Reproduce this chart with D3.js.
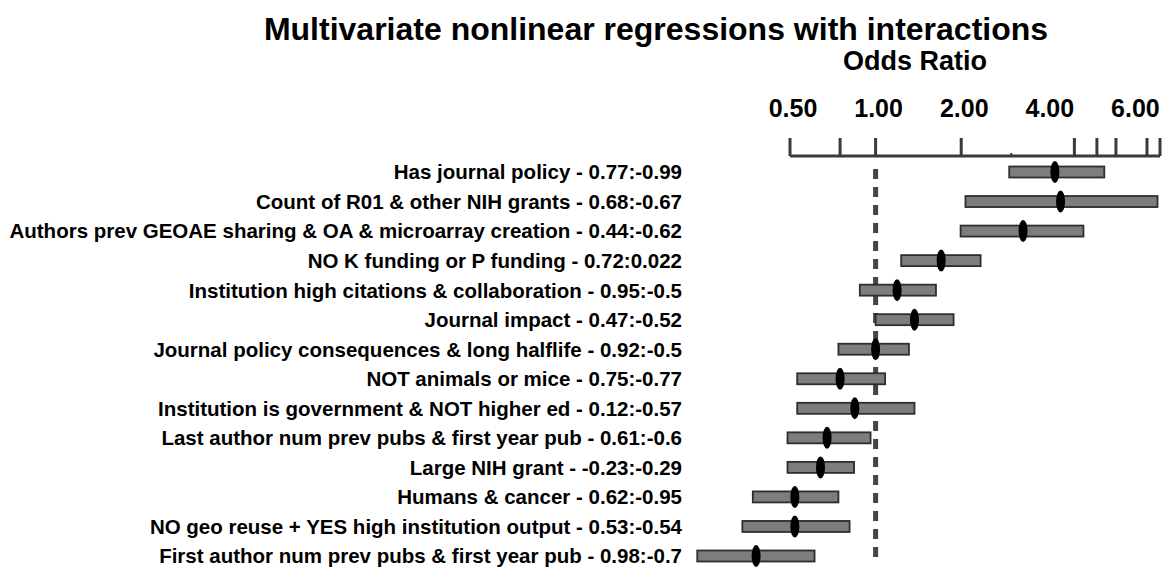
<!DOCTYPE html>
<html>
<head>
<meta charset="utf-8">
<script src="https://cdn.jsdelivr.net/npm/d3@7"></script>
<style>
  html, body { margin: 0; padding: 0; background: #fff; }
  svg { display: block; }
  text { font-family: "Liberation Sans", Arial, Helvetica, sans-serif; font-weight: bold; fill: #000; }
</style>
</head>
<body>
<svg id="chart" width="1166" height="571"></svg>
<script>
// ---------- data ----------
const categories = [
  "Has journal policy - 0.77:-0.99",
  "Count of R01 & other NIH grants - 0.68:-0.67",
  "Authors prev GEOAE sharing & OA & microarray creation - 0.44:-0.62",
  "NO K funding or P funding - 0.72:0.022",
  "Institution high citations & collaboration - 0.95:-0.5",
  "Journal impact - 0.47:-0.52",
  "Journal policy consequences & long halflife - 0.92:-0.5",
  "NOT animals or mice - 0.75:-0.77",
  "Institution is government & NOT higher ed - 0.12:-0.57",
  "Last author num prev pubs & first year pub - 0.61:-0.6",
  "Large NIH grant - -0.23:-0.29",
  "Humans & cancer - 0.62:-0.95",
  "NO geo reuse + YES high institution output - 0.53:-0.54",
  "First author num prev pubs & first year pub - 0.98:-0.7"
];
const oddsRatio = [4.27, 4.47, 3.30, 1.70, 1.19, 1.37, 1.00, 0.75, 0.845, 0.675, 0.64, 0.52, 0.52, 0.38];
const ciLower   = [2.95, 2.07, 1.99, 1.23, 0.88, 1.00, 0.74, 0.53, 0.53, 0.49, 0.49, 0.37, 0.34, 0.236];
const ciUpper   = [6.37, 9.80, 5.38, 2.34, 1.63, 1.88, 1.31, 1.08, 1.37, 0.96, 0.84, 0.74, 0.81, 0.61];

const axisTickValues  = [0.5, 0.75, 1, 2, 5, 6, 7, 9, 10];
const axisMinorTicks  = [3];
const tickLabelValues = [0.5, 1, 2, 4, 8];
const tickLabels      = ["0.50", "1.00", "2.00", "4.00", "6.00"];
const axisDomain      = [0.5, 10];
const referenceValue  = 1;

const titleText  = "Multivariate nonlinear regressions with interactions";
const xAxisTitle = "Odds Ratio";

// ---------- layout ----------
const svg = d3.select("#chart");
const x = d3.scaleLog().domain(axisDomain).range([790, 1160]);
const y = d3.scalePoint().domain(categories).range([172, 556]);
const axisY = 156;

const rows = categories.map((c, i) => ({ label: c, est: oddsRatio[i], lo: ciLower[i], hi: ciUpper[i] }));

// title
svg.append("text")
  .attr("x", 656).attr("y", 40)
  .attr("text-anchor", "middle")
  .style("font-size", "32px")
  .text(titleText);

svg.append("text")
  .attr("x", 915).attr("y", 70)
  .attr("text-anchor", "middle")
  .style("font-size", "27px")
  .text(xAxisTitle);

// axis (ticks point up)
const axisG = svg.append("g");
axisG.append("line")
  .attr("x1", x(axisDomain[0])).attr("x2", x(axisDomain[1]))
  .attr("y1", axisY).attr("y2", axisY)
  .attr("stroke", "#3a3a3a").attr("stroke-width", 3);
axisG.selectAll("line.tick").data(axisTickValues).join("line")
  .attr("class", "tick")
  .attr("x1", d => x(d)).attr("x2", d => x(d))
  .attr("y1", axisY).attr("y2", axisY - 18)
  .attr("stroke", "#3a3a3a").attr("stroke-width", 3);
axisG.selectAll("line.minor").data(axisMinorTicks).join("line")
  .attr("class", "minor")
  .attr("x1", d => x(d)).attr("x2", d => x(d))
  .attr("y1", axisY).attr("y2", axisY - 3)
  .attr("stroke", "#3a3a3a").attr("stroke-width", 2);
axisG.selectAll("text.tl").data(tickLabelValues).join("text")
  .attr("class", "tl")
  .attr("x", d => x(d) + 3).attr("y", 117)
  .attr("text-anchor", "middle")
  .style("font-size", "25px")
  .text((d, i) => tickLabels[i]);

// reference dashed line at OR = 1
svg.append("line")
  .attr("x1", x(referenceValue)).attr("x2", x(referenceValue))
  .attr("y1", y(categories[0]) - 3).attr("y2", y(categories[categories.length - 1]) + 3)
  .attr("stroke", "#444").attr("stroke-width", 5)
  .attr("stroke-dasharray", "10,8");

// row labels
svg.selectAll("text.row").data(rows).join("text")
  .attr("class", "row")
  .attr("x", 682).attr("y", d => y(d.label))
  .attr("dy", "0.36em")
  .attr("text-anchor", "end")
  .style("font-size", "20.5px")
  .text(d => d.label);

// CI bars
svg.selectAll("rect.ci").data(rows).join("rect")
  .attr("class", "ci")
  .attr("x", d => x(d.lo))
  .attr("width", d => x(d.hi) - x(d.lo))
  .attr("y", d => y(d.label) - 5.5)
  .attr("height", 11)
  .attr("fill", "#7d7d7d")
  .attr("stroke", "#2e2e2e")
  .attr("stroke-width", 1.8);

// point estimates
svg.selectAll("ellipse.est").data(rows).join("ellipse")
  .attr("class", "est")
  .attr("cx", d => x(d.est))
  .attr("cy", d => y(d.label))
  .attr("rx", 4.5).attr("ry", 11)
  .attr("fill", "#000");
</script>
</body>
</html>
